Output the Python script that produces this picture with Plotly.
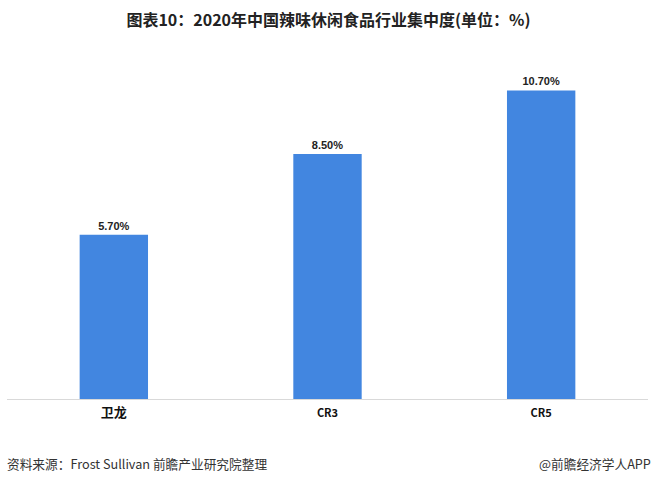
import plotly.graph_objects as go

categories = ["卫龙", "CR3", "CR5"]
values = [5.70, 8.50, 10.70]
tick_labels = ["<b><span style='font-size:13px'>卫龙</span></b>", "<b>CR3</b>", "<b>CR5</b>"]

title_text = "图表10：2020年中国辣味休闲食品行业集中度(单位：%)"
source_text = "资料来源：Frost Sullivan 前瞻产业研究院整理"
brand_text = "@前瞻经济学人APP"

fig = go.Figure()
fig.add_trace(go.Bar(
    x=categories,
    y=values,
    width=0.32,
    marker=dict(color="#4286E0", line=dict(width=0)),
    text=[f"<b>{v:.2f}%</b>" for v in values],
    textposition="outside",
    textfont=dict(size=11, color="#222222", family="Liberation Sans, Arial, sans-serif"),
    cliponaxis=False,
))

fig.update_layout(
    width=653, height=483,
    margin=dict(l=7, r=5, t=53, b=84),
    paper_bgcolor="white",
    plot_bgcolor="white",
    showlegend=False,
    font=dict(family="Noto Sans CJK SC, sans-serif", color="#222222"),
    title=dict(
        text="<b>" + title_text + "</b>",
        x=0.503, xanchor="center", y=0.958, yanchor="middle",
        font=dict(size=16, color="#222222", family="Noto Sans CJK SC, sans-serif"),
    ),
    xaxis=dict(
        tickmode="array", tickvals=categories, ticktext=tick_labels,
        showline=True, linecolor="#D9D9D9", linewidth=1,
        showgrid=False, ticks="", zeroline=False,
        ticklabelstandoff=4,
        tickfont=dict(size=11, color="#111111", family="Noto Sans CJK SC, Liberation Sans Narrow, sans-serif"),
        fixedrange=True,
    ),
    yaxis=dict(
        range=[0, 12], visible=False, showgrid=False, zeroline=False,
    ),
    bargap=0.68,
)

fig.add_annotation(
    text=source_text, xref="paper", yref="paper",
    x=-0.003, y=-0.185, xanchor="left", yanchor="middle",
    showarrow=False,
    font=dict(size=12.7, color="#333333", family="Noto Sans CJK SC, sans-serif"),
)
fig.add_annotation(
    text=brand_text, xref="paper", yref="paper",
    x=1.008, y=-0.185, xanchor="right", yanchor="middle",
    showarrow=False,
    font=dict(size=12.7, color="#333333", family="Noto Sans CJK SC, sans-serif"),
)

fig.write_html(
    "out.html",
    config={"displayModeBar": False},
    post_script="document.body.style.margin='0';document.body.style.padding='0';",
)
